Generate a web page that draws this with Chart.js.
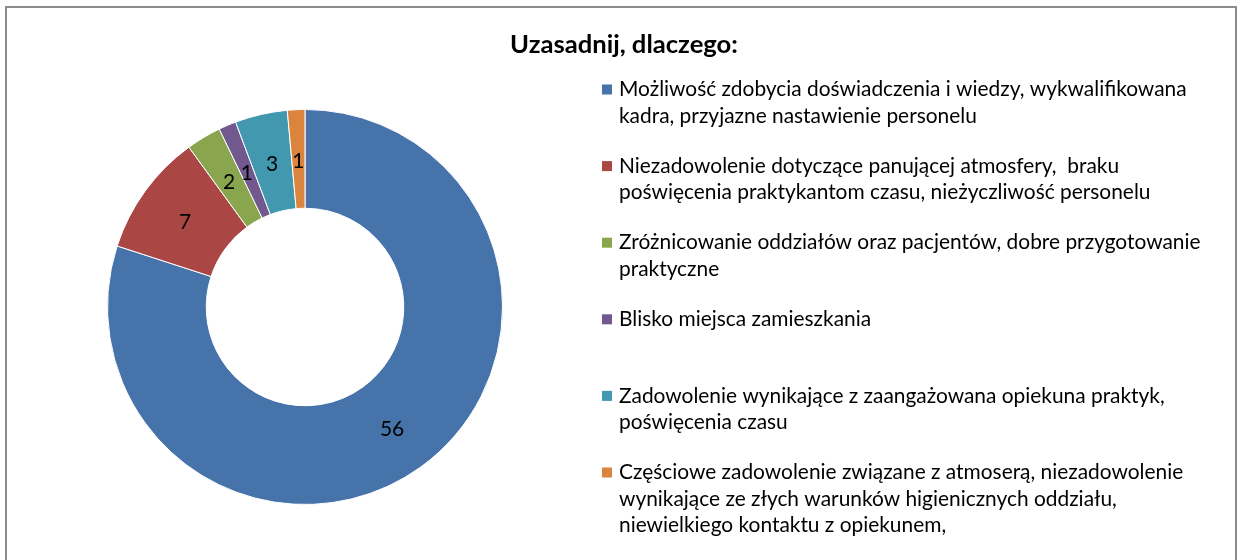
<!DOCTYPE html>
<html>
<head>
<meta charset="utf-8">
<script src="https://cdn.jsdelivr.net/npm/chart.js@4/dist/chart.umd.min.js"></script>
<style>
	html, body { margin: 0; padding: 0; background: #fff; }
	#wrap { width: 1239px; height: 560px; }
</style>
</head>
<body>
<div id="wrap"><canvas id="chart" width="1239" height="560"></canvas></div>
<script>
/*  data  */
const chartTitle = 'Uzasadnij, dlaczego:';
const categories = [
	['Możliwość zdobycia doświadczenia i wiedzy, wykwalifikowana', 'kadra, przyjazne nastawienie personelu'],
	['Niezadowolenie dotyczące panującej atmosfery,  braku', 'poświęcenia praktykantom czasu, nieżyczliwość personelu'],
	['Zróżnicowanie oddziałów oraz pacjentów, dobre przygotowanie', 'praktyczne'],
	['Blisko miejsca zamieszkania'],
	['Zadowolenie wynikające z zaangażowana opiekuna praktyk,', 'poświęcenia czasu'],
	['Częściowe zadowolenie związane z atmoserą, niezadowolenie', 'wynikające ze złych warunków higienicznych oddziału,', 'niewielkiego kontaktu z opiekunem,']
];
const counts = [56, 7, 2, 1, 3, 1];
const colors = ['#4674AA', '#AA4643', '#89A54E', '#71588F', '#4198AF', '#DB843D'];

const fontName = 'Lato, "Liberation Sans", sans-serif';

/* pick a font size so a given text gets the width it has in the picture */
function fitSize(ctx, text, weight, target) {
	ctx.font = weight + ' 20px ' + fontName;
	return 20 * target / ctx.measureText(text).width;
}

let framePlugin = {
	id: 'frame',
	beforeDraw(chart) {
		let ctx = chart.ctx;
		ctx.save();
		ctx.strokeStyle = '#8c8c8c';
		ctx.lineWidth = 2;
		ctx.beginPath();
		ctx.moveTo(6, 562);
		ctx.lineTo(6, 7);
		ctx.lineTo(1236, 7);
		ctx.lineTo(1236, 562);
		ctx.stroke();
		ctx.restore();
	}
};

let labelsPlugin = {
	id: 'sliceLabels',
	afterDatasetsDraw(chart) {
		let ctx = chart.ctx;
		let meta = chart.getDatasetMeta(0);
		ctx.save();
		ctx.fillStyle = '#000';
		ctx.font = '21px ' + fontName;
		ctx.textAlign = 'center';
		ctx.textBaseline = 'middle';
		meta.data.forEach(function (arc, i) {
			let p = arc.tooltipPosition();
			ctx.fillText(String(chart.data.datasets[0].data[i]), p.x, p.y + 2);
		});
		ctx.restore();
	}
};

let legendPlugin = {
	id: 'sideLegend',
	afterDraw(chart) {
		let ctx = chart.ctx;
		ctx.save();

		/* title */
		let ts = fitSize(ctx, chartTitle, 'bold', 228);
		ctx.font = 'bold ' + ts + 'px ' + fontName;
		ctx.fillStyle = '#000';
		ctx.textAlign = 'center';
		ctx.textBaseline = 'middle';
		ctx.fillText(chartTitle, 624, 45);

		/* legend, each entry gets the same slot as in Excel */
		let ls = fitSize(ctx, categories[0][0], 'normal', 568);
		ctx.font = ls + 'px ' + fontName;
		ctx.textAlign = 'left';
		let bg = chart.data.datasets[0].backgroundColor;
		for (let i = 0; i < chart.data.labels.length; i++) {
			let y = 89.5 + i * 76.6;
			ctx.fillStyle = bg[i];
			ctx.fillRect(602, y - 5, 10, 10);
			ctx.fillStyle = '#000';
			let lines = chart.data.labels[i];
			for (let j = 0; j < lines.length; j++) {
				ctx.fillText(lines[j], 619, y + j * 26.3);
			}
		}
		ctx.restore();
	}
};

let ctxD = document.getElementById('chart').getContext('2d');
let donut = new Chart(ctxD, {
	type: 'doughnut',
	data: {
		labels: categories,
		datasets: [{
			data: counts,
			backgroundColor: colors,
			borderColor: '#ffffff',
			borderWidth: 1
		}]
	},
	options: {
		responsive: false,
		animation: false,
		cutout: '50%',
		layout: {
			padding: { left: 107, top: 109, right: 736, bottom: 55 }
		},
		plugins: {
			legend: { display: false },
			title: { display: false },
			tooltip: { enabled: false }
		},
		events: []
	},
	plugins: [framePlugin, labelsPlugin, legendPlugin]
});
</script>
</body>
</html>
